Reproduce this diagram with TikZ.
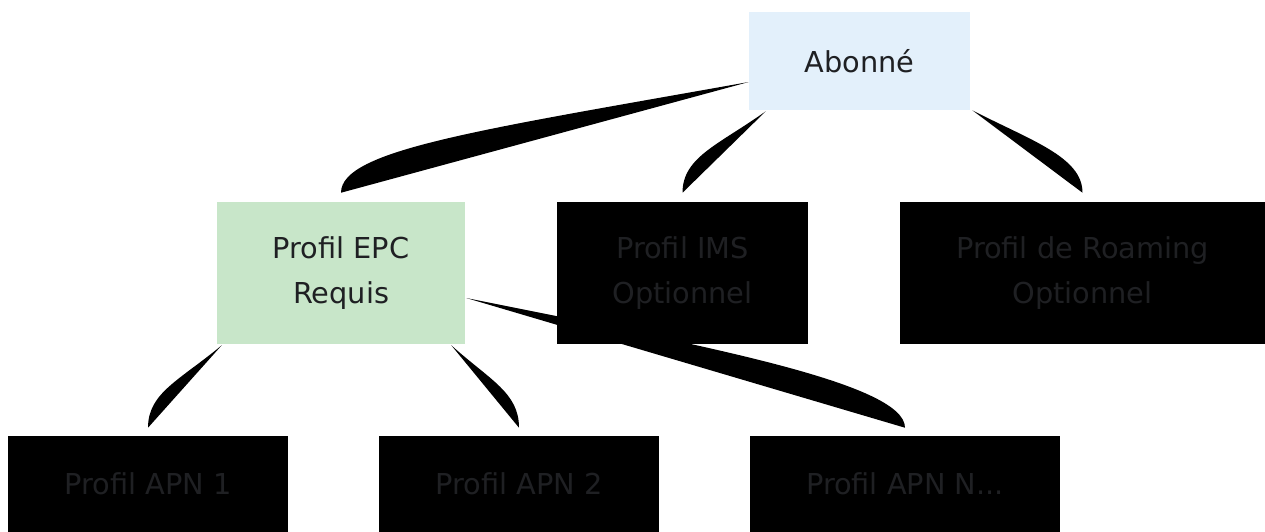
\documentclass[tikz,border=0pt]{standalone}
\usepackage{fontspec}
\setmainfont{DejaVu Sans}
\usepackage{xcolor}
\usepackage{tikz}
\usetikzlibrary{positioning}
\usetikzlibrary{calc,backgrounds}
\definecolor{subblue}{HTML}{E3F0FB}
\definecolor{epcgreen}{HTML}{C8E6C9}
\definecolor{labelgray}{HTML}{1F2023}

\begin{document}
\begin{tikzpicture}[x=0.75pt,y=-0.75pt,
  box/.style 2 args={rectangle,inner sep=0pt,align=center,text=labelgray,
    minimum width=#1*0.75pt,minimum height=#2*0.75pt,
    font=\fontsize{21.6}{33.75}\selectfont},
  link/.style={fill=black}]
  \useasboundingbox (0,0) rectangle (1265,532);
  % subscriber
  \node[box={221}{98},fill=subblue] (abo) at (859.5,61) {Abonné};
  % profiles
  \node[box={248}{142},fill=epcgreen] (epc) at (341,273) {Profil EPC\\Requis};
  \node[box={251}{142},fill=black] (ims) at (682.5,273) {Profil IMS\\Optionnel};
  \node[box={365}{142},fill=black] (roam) at (1082.5,273) {Profil de Roaming\\Optionnel};
  % APN profiles
  \node[box={280}{96},fill=black] (apn1) at (148,484) {Profil APN 1};
  \node[box={280}{96},fill=black] (apn2) at (519,484) {Profil APN 2};
  \node[box={310}{96},fill=black] (apnN) at (905,484) {Profil APN N...};
  % links (behind the boxes)
  \begin{scope}[on background layer]
    \fill[link] ($(abo.west)+(0,21)$) .. controls +(-269,48) and +(0,-43) .. ($(epc.north)+(0,-9)$);
    \fill[link] ($(abo.south west)+(17,1)$) .. controls +(-46,33) and +(0,-36) .. ($(ims.north)+(0,-9)$);
    \fill[link] ($(abo.south east)+(2,0)$) .. controls +(58,30) and +(0,-36) .. ($(roam.north)+(0,-9)$);
    \fill[link] ($(epc.south west)+(5,1)$) .. controls +(-42,35) and +(0,-35) .. ($(apn1.north)+(0,-8)$);
    \fill[link] ($(epc.south east)+(-14,1)$) .. controls +(39,35) and +(0,-35) .. ($(apn2.north)+(0,-8)$);
    \fill[link] ($(epc.east)+(1,25)$) .. controls +(234,47) and +(0,-45) .. ($(apnN.north)+(0,-8)$);
  \end{scope}
\end{tikzpicture}
\end{document}
